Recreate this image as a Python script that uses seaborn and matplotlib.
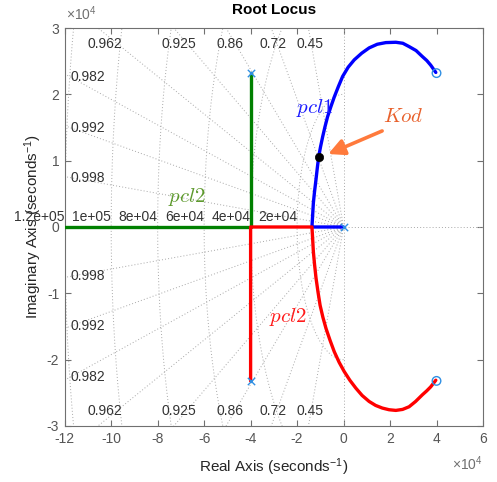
import numpy as np
import pandas as pd
import matplotlib
matplotlib.use("Agg")
import matplotlib.pyplot as plt
import seaborn as sns

# ---------------- data (seconds^-1) ----------------
POLE_RE = [-40000.0, -40000.0, 0.0]
POLE_IM = [23200.0, -23200.0, 0.0]
ZERO_RE = [40000.0, 40000.0]
ZERO_IM = [23200.0, -23200.0]

GREEN_RE = [-40000.0, -40000.0, -130000.0]
GREEN_IM = [23200.0, 0.0, 0.0]

RED_RE = [-40000.0, -40000.0, -13600.0, -13300.0, -13000.0, -12500.0, -11850.0,
          -11000.0, -10100.0, -8900.0, -7550.0, -5800.0, -4000.0, -1900.0,
          300.0, 2700.0, 5300.0, 8000.0, 11000.0, 13800.0, 16700.0, 19600.0,
          22500.0, 25400.0, 28200.0, 31000.0, 33900.0, 35800.0, 37500.0, 39700.0]
RED_IM = [-23200.0, 0.0, 0.0, -1800.0, -3700.0, -5600.0, -7700.0,
          -9800.0, -11800.0, -13600.0, -15300.0, -17100.0, -18800.0, -20400.0,
          -21800.0, -23100.0, -24300.0, -25400.0, -26300.0, -26900.0, -27300.0, -27550.0,
          -27650.0, -27500.0, -27100.0, -26300.0, -25300.0, -24700.0, -24100.0, -23100.0]

BLUE_RE = [0.0, -13600.0, -13300.0, -13000.0, -12500.0, -11850.0, -11300.0,
           -10700.0, -9900.0, -9000.0, -8000.0, -6900.0, -5500.0, -4000.0,
           -2200.0, -400.0, 2000.0, 4600.0, 7800.0, 11000.0, 14500.0, 18200.0,
           22500.0, 25500.0, 28200.0, 31200.0, 33900.0, 35800.0, 37500.0, 39700.0]
BLUE_IM = [0.0, 0.0, 1800.0, 3600.0, 5300.0, 7200.0, 8900.0,
           10600.0, 12100.0, 13600.0, 15100.0, 16600.0, 18100.0, 19600.0,
           21200.0, 22700.0, 24100.0, 25200.0, 26200.0, 27000.0, 27550.0, 27800.0,
           27850.0, 27700.0, 27200.0, 26600.0, 25700.0, 25100.0, 24400.0, 23300.0]

KOD_RE = [-10700.0]
KOD_IM = [10600.0]

ZETA = [0.45, 0.72, 0.86, 0.925, 0.962, 0.982, 0.992, 0.998]
WN = [20000.0, 40000.0, 60000.0, 80000.0, 100000.0, 120000.0]
WN_LABELS = ["2e+04", "4e+04", "6e+04", "8e+04", "1e+05", "1.2e+05"]

X_TICKS = [-12, -10, -8, -6, -4, -2, 0, 2, 4, 6]
Y_TICKS = [-3, -2, -1, 0, 1, 2, 3]

ZETA_TOP = {0.45: -14600.0, 0.72: -30400.0, 0.86: -49000.0, 0.925: -70700.0, 0.962: -102700.0}
ZETA_LEFT = {0.982: 22600.0, 0.992: 14900.0, 0.998: 7450.0}

branches = pd.concat([
    pd.DataFrame({"re": BLUE_RE, "im": BLUE_IM, "branch": "blue"}),
    pd.DataFrame({"re": GREEN_RE, "im": GREEN_IM, "branch": "green"}),
    pd.DataFrame({"re": RED_RE, "im": RED_IM, "branch": "red"}),
], ignore_index=True)
PALETTE = {"blue": "#0000ff", "green": "#008000", "red": "#ff0000"}

# ---------------- style ----------------
sns.set_theme(style="white")
plt.rcParams["font.family"] = ["Liberation Sans", "DejaVu Sans"]
plt.rcParams["mathtext.fontset"] = "custom"
plt.rcParams["mathtext.rm"] = "Liberation Sans"
plt.rcParams["mathtext.it"] = "Liberation Sans:italic"
plt.rcParams["mathtext.bf"] = "Liberation Sans:bold"

fig = plt.figure(figsize=(4.97, 4.82), dpi=100)
ax = fig.add_axes([0.1302, 0.1162, 0.9718 - 0.1302, 0.9419 - 0.1162])
ax.set_facecolor("white")

XMIN, XMAX, YMIN, YMAX = -120000, 60000, -30000, 30000
grid_kw = dict(color="#a8a8a8", lw=0.7, ls=(0, (1, 2.2)), zorder=1)
R = 300000.0
for z in ZETA:
    th = np.arccos(z)
    ax.plot([0, -R * np.cos(th)], [0, R * np.sin(th)], **grid_kw)
    ax.plot([0, -R * np.cos(th)], [0, -R * np.sin(th)], **grid_kw)
ax.plot([0, 0], [YMIN, YMAX], **grid_kw)
ax.plot([XMIN, XMAX], [0, 0], **grid_kw)
phi = np.linspace(-np.pi / 2, np.pi / 2, 400)
for w in WN:
    ax.plot(-w * np.cos(phi), w * np.sin(phi), **grid_kw)

lab_kw = dict(fontsize=10, color="#333333", zorder=2)
for w, t in zip(WN, WN_LABELS):
    ax.text(-w, 450, t, ha="right", va="bottom", clip_on=False, **lab_kw)
for z, xpos in ZETA_TOP.items():
    ax.text(xpos, 27600, f"{z:g}", ha="center", va="center", **lab_kw)
    ax.text(xpos, -27800, f"{z:g}", ha="center", va="center", **lab_kw)
for z, ypos in ZETA_LEFT.items():
    ax.text(-117300, ypos, f"{z:g}", ha="left", va="center", **lab_kw)
    ax.text(-117300, -ypos, f"{z:g}", ha="left", va="center", **lab_kw)

# ---------------- locus branches ----------------
sns.lineplot(data=branches, x="re", y="im", hue="branch", units="branch",
             palette=PALETTE, sort=False, estimator=None, linewidth=2.4,
             legend=False, ax=ax, zorder=3)

mk = "#2f8fe3"
sns.scatterplot(x=POLE_RE, y=POLE_IM, marker="x", s=28, linewidth=1.0, color=mk, ax=ax, zorder=5)
sns.scatterplot(x=ZERO_RE, y=ZERO_IM, marker="o", s=38, linewidth=1.0, facecolor="none",
                edgecolor=mk, ax=ax, zorder=5)
sns.scatterplot(x=KOD_RE, y=KOD_IM, color="black", s=36, edgecolor="black", ax=ax, zorder=6)

ax.text(-12600, 18000, r"$pcl1$", color="#1a1aff", fontsize=15, ha="center", va="center",
        math_fontfamily="cm", zorder=6)
ax.text(-67300, 4450, r"$pcl2$", color="#5e9a2e", fontsize=15, ha="center", va="center",
        math_fontfamily="cm", zorder=6)
ax.text(-24000, -13500, r"$pcl2$", color="#ff1a1a", fontsize=15, ha="center", va="center",
        math_fontfamily="cm", zorder=6)
ax.text(25600, 16600, r"$Kod$", color="#e8612c", fontsize=15, ha="center", va="center",
        math_fontfamily="cm", zorder=6)
ax.annotate("", xy=(-6600, 11000), xytext=(16600, 14480),
            arrowprops=dict(arrowstyle="-|>,head_length=0.8,head_width=0.4",
                            color="#ff7a3c", lw=2.6, shrinkA=0, shrinkB=0), zorder=6)

# ---------------- axes ----------------
ax.set_xlim(XMIN, XMAX)
ax.set_ylim(YMIN, YMAX)
ax.set_xticks([t * 1e4 for t in X_TICKS])
ax.set_xticklabels([str(t) for t in X_TICKS])
ax.set_yticks([t * 1e4 for t in Y_TICKS])
ax.set_yticklabels([str(t) for t in Y_TICKS])
for s in ax.spines.values():
    s.set_visible(True)
    s.set_color("#707070")
    s.set_linewidth(0.8)
ax.tick_params(direction="in", length=4, width=0.8, color="#707070",
               labelcolor="#555555", labelsize=10, top=True, right=True,
               bottom=True, left=True, pad=4)

ax.set_xlabel("Real Axis (seconds$^{-1}$)", fontsize=11, color="#262626", labelpad=8)
ax.set_ylabel("Imaginary Axis (seconds$^{-1}$)", fontsize=11, color="#262626", labelpad=2)
ax.set_title("Root Locus", fontsize=11, fontweight="bold", color="black", pad=10)

fig.text(0.1322, 0.9525, r"$\times10^{4}$", fontsize=10, color="#707070", ha="left", va="bottom")
fig.text(0.9718, 0.0195, r"$\times10^{4}$", fontsize=10, color="#707070", ha="right", va="bottom")

fig.savefig("out.png", dpi=100, facecolor="white")
